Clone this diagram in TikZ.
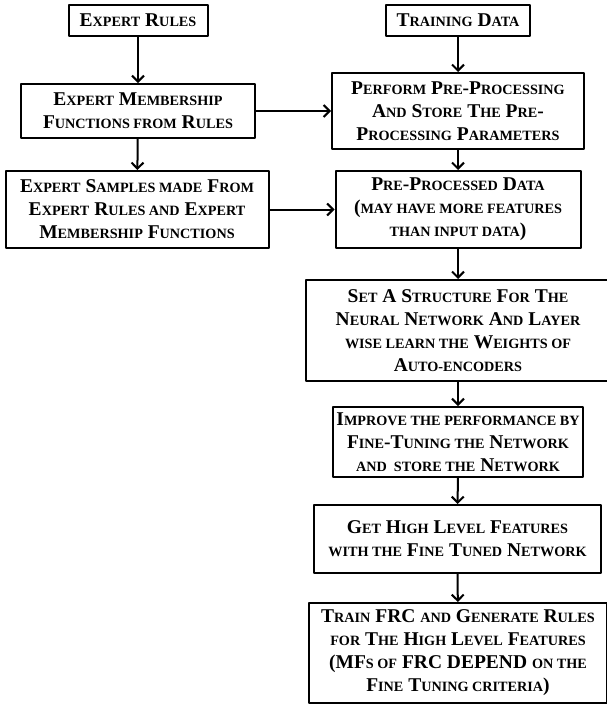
\documentclass[tikz,border=0pt]{standalone}
\usepackage{fontspec}
\setmainfont{Liberation Serif}
\usetikzlibrary{arrows.meta}
% small capitals made by hand
\newcommand{\sca}[1]{{\fontsize{14.2}{23}\selectfont\MakeUppercase{#1}}}
\tikzset{
	blk/.style={draw, line width=2pt, inner sep=0pt, align=center,
		font=\bfseries\fontsize{19.5}{23}\selectfont},
	flow/.style={->, line width=2pt},
}
\begin{document}
\begin{tikzpicture}[x=1pt, y=-1pt, >={Straight Barb[length=6pt,width=12pt]}, line join=round]
	\fill[white] (0,0) rectangle (606,707);
	\useasboundingbox (0,0) rectangle (606,707);
	% left column
	\node[blk, minimum width=139, minimum height=31] (rules) at (138,20.5) {E\sca{xpert} R\sca{ules}};
	\node[blk, minimum width=234, minimum height=54] (mfs) at (138,111)
		{E\sca{xpert} M\sca{embership}\\ F\sca{unctions from} R\sca{ules}};
	\node[blk, minimum width=263, minimum height=77] (samples) at (137,209.5)
		{E\sca{xpert} S\sca{amples made} F\sca{rom}\\ E\sca{xpert} R\sca{ules and} E\sca{xpert}\\ M\sca{embership} F\sca{unctions}};
	% right column
	\node[blk, minimum width=144, minimum height=31] (train) at (458,20.5) {T\sca{raining} D\sca{ata}};
	\node[blk, minimum width=252, minimum height=76] (prep) at (458,111)
		{P\sca{erform} P\sca{re}-P\sca{rocessing}\\ A\sca{nd} S\sca{tore} T\sca{he} P\sca{re}-\\ P\sca{rocessing} P\sca{arameters}};
	\node[blk, minimum width=245, minimum height=77] (ppd) at (458,209.5)
		{P\sca{re}-P\sca{rocessed} D\sca{ata}\\ (\sca{may have more features}\\ \sca{than input data})};
	\node[blk, minimum width=304, minimum height=101] (struct) at (458,330.5)
		{S\sca{et} A S\sca{tructure} F\sca{or} T\sca{he}\\ N\sca{eural} N\sca{etwork} A\sca{nd} L\sca{ayer}\\ \sca{wise learn the} W\sca{eights of}\\ A\sca{uto-encoders}};
	\node[blk, minimum width=250, minimum height=70] (tune) at (458,442)
		{I\sca{mprove the performance by}\\ F\sca{ine}-T\sca{uning the} N\sca{etwork}\\ \sca{and\ \ store the} N\sca{etwork}};
	\node[blk, minimum width=287, minimum height=68] (high) at (457.5,539)
		{G\sca{et} H\sca{igh} L\sca{evel} F\sca{eatures}\\ \sca{with the} F\sca{ine} T\sca{uned} N\sca{etwork}};
	\node[blk, minimum width=298, minimum height=100] (frc) at (458,653)
		{T\sca{rain} FRC \sca{and} G\sca{enerate} R\sca{ules}\\ \sca{for} T\sca{he} H\sca{igh} L\sca{evel} F\sca{eatures}\\ (MF\sca{s of} FRC DEPEND \sca{on the}\\ F\sca{ine} T\sca{uning criteria})};
	% arrows
	\draw[flow] (rules) -- (mfs);
	\draw[flow] (mfs) -- (samples);
	\draw[flow] (mfs.east) -- (prep.west |- mfs.east);
	\draw[flow] (samples.east) -- (ppd.west |- samples.east);
	\draw[flow] (train) -- (prep);
	\draw[flow] (prep) -- (ppd);
	\draw[flow] (ppd) -- (struct);
	\draw[flow] (struct) -- (tune);
	\draw[flow] (tune) -- (high);
	\draw[flow] (high) -- (frc);
\end{tikzpicture}
\end{document}
